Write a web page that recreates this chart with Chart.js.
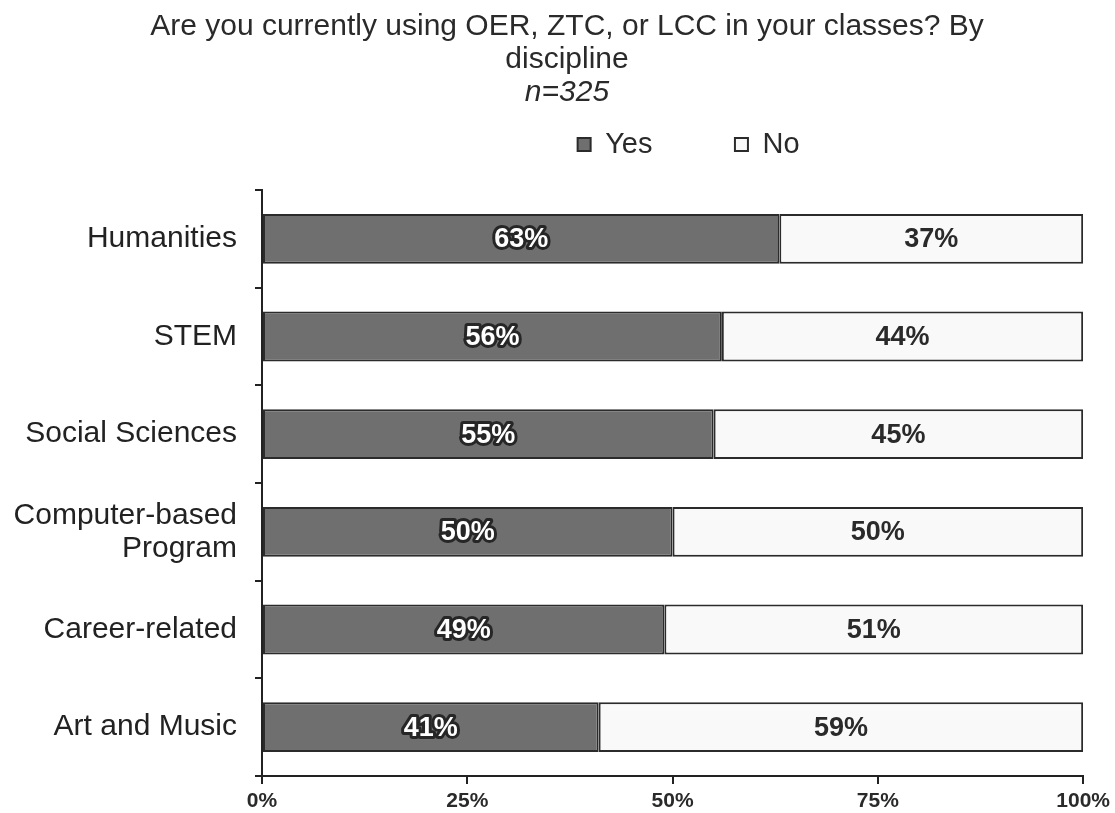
<!DOCTYPE html>
<html>
<head>
<meta charset="utf-8">
<script src="https://cdn.jsdelivr.net/npm/chart.js@4"></script>
<style>
  body { margin: 0; background: #fff; }
  #wrap { width: 1115px; height: 813px; }
</style>
</head>
<body>
<div id="wrap"><canvas id="myChart" width="1115" height="813"></canvas></div>
<script>
var disciplines = ['Humanities', 'STEM', 'Social Sciences', ['Computer-based', 'Program'], 'Career-related', 'Art and Music'];
var yes = [63, 56, 55, 50, 49, 41];
var no = [37, 44, 45, 50, 51, 59];
var xTicks = [0, 25, 50, 75, 100];

var font = "'Liberation Sans', Arial, sans-serif";

// draw the percent labels in the middle of each segment
var segLabels = {
  id: 'segLabels',
  afterDatasetsDraw: function(chart) {
    var c = chart.ctx;
    c.save();
    c.font = 'bold 27px ' + font;
    c.textAlign = 'center';
    c.textBaseline = 'middle';
    chart.data.datasets.forEach(function(ds, i) {
      var meta = chart.getDatasetMeta(i);
      meta.data.forEach(function(bar, j) {
        var x = (bar.x + bar.base) / 2;
        var txt = ds.data[j] + '%';
        if (i == 0) {
          c.lineWidth = 6;
          c.strokeStyle = '#262626';
          c.lineJoin = 'round';
          c.strokeText(txt, x, bar.y + 1);
          c.fillStyle = '#fff';
        } else {
          c.fillStyle = '#2a2a2a';
        }
        c.fillText(txt, x, bar.y + 1);
      });
    });
    c.restore();
  }
};

// legend needs some room under it; title, subtitle and legend sit a bit right
var topBoxes = {
  id: 'topBoxes',
  beforeLayout: function(chart) {
    var lg = chart.legend;
    if (lg && !lg._roomPatched) {
      var fit = lg.fit;
      lg.fit = function() {
        fit.call(this);
        this.height += 21;
      };
      lg._roomPatched = true;
    }
  },
  afterLayout: function(chart) {
    chart.boxes.forEach(function(b) {
      if (b === chart.legend) {
        b.left += 16;
        b.right += 16;
      } else if (b.options && b.options.position === 'top') {
        b.left += 21;
        b.right += 21;
      }
    });
  }
};

var ctx = document.getElementById('myChart');
var myChart = new Chart(ctx, {
  type: 'bar',
  data: {
    labels: disciplines,
    datasets: [
      {
        label: 'Yes',
        data: yes,
        backgroundColor: '#6f6f6f',
        borderColor: '#2b2b2b',
        borderWidth: 2,
        borderSkipped: false,
        barPercentage: 0.51,
        categoryPercentage: 1
      },
      {
        label: 'No',
        data: no,
        backgroundColor: '#f9f9f9',
        borderColor: '#2b2b2b',
        borderWidth: 2,
        borderSkipped: false,
        barPercentage: 0.51,
        categoryPercentage: 1
      }
    ]
  },
  options: {
    indexAxis: 'y',
    responsive: false,
    animation: false,
    layout: { padding: { left: 8, right: 31, top: 0, bottom: 2 } },
    plugins: {
      title: {
        display: true,
        text: ['Are you currently using OER, ZTC, or LCC in your classes? By', 'discipline'],
        color: '#2a2a2a',
        font: { family: font, size: 30, weight: 'normal', lineHeight: 1.1 },
        padding: { top: 10, bottom: 0 }
      },
      subtitle: {
        display: true,
        text: 'n=325',
        color: '#2a2a2a',
        font: { family: font, size: 30, style: 'italic', weight: 'normal', lineHeight: 1.1 },
        padding: { top: 0, bottom: 11 }
      },
      legend: {
        display: true,
        position: 'top',
        fullSize: false,
        labels: {
          color: '#2a2a2a',
          font: { family: font, size: 29 },
          boxWidth: 13,
          boxHeight: 13,
          padding: 10,
          generateLabels: function(chart) {
            var items = Chart.defaults.plugins.legend.labels.generateLabels(chart);
            items[0].text = items[0].text + '\u2003\u2003\u2002';
            return items;
          }
        }
      },
      tooltip: { enabled: false }
    },
    scales: {
      x: {
        stacked: true,
        min: 0,
        max: 100,
        afterBuildTicks: function(axis) {
          axis.ticks = xTicks.map(function(v) { return { value: v }; });
        },
        afterFit: function(axis) { axis.height = 35; },
        ticks: {
          color: '#2a2a2a',
          font: { family: font, size: 21, weight: 'bold' },
          padding: 5,
          callback: function(v) { return v + '%'; }
        },
        grid: {
          drawOnChartArea: false,
          drawTicks: true,
          tickLength: 8,
          color: '#222',
          lineWidth: 2
        },
        border: { display: true, color: '#222', width: 2 }
      },
      y: {
        stacked: true,
        afterFit: function(axis) { axis.width = 254; },
        ticks: {
          color: '#222',
          font: { family: font, size: 30, lineHeight: 1.1 },
          padding: 18
        },
        grid: {
          offset: true,
          drawOnChartArea: false,
          drawTicks: true,
          tickLength: 7,
          color: '#222',
          lineWidth: 2
        },
        border: { display: true, color: '#222', width: 2 }
      }
    }
  },
  plugins: [segLabels, topBoxes]
});
</script>
</body>
</html>
